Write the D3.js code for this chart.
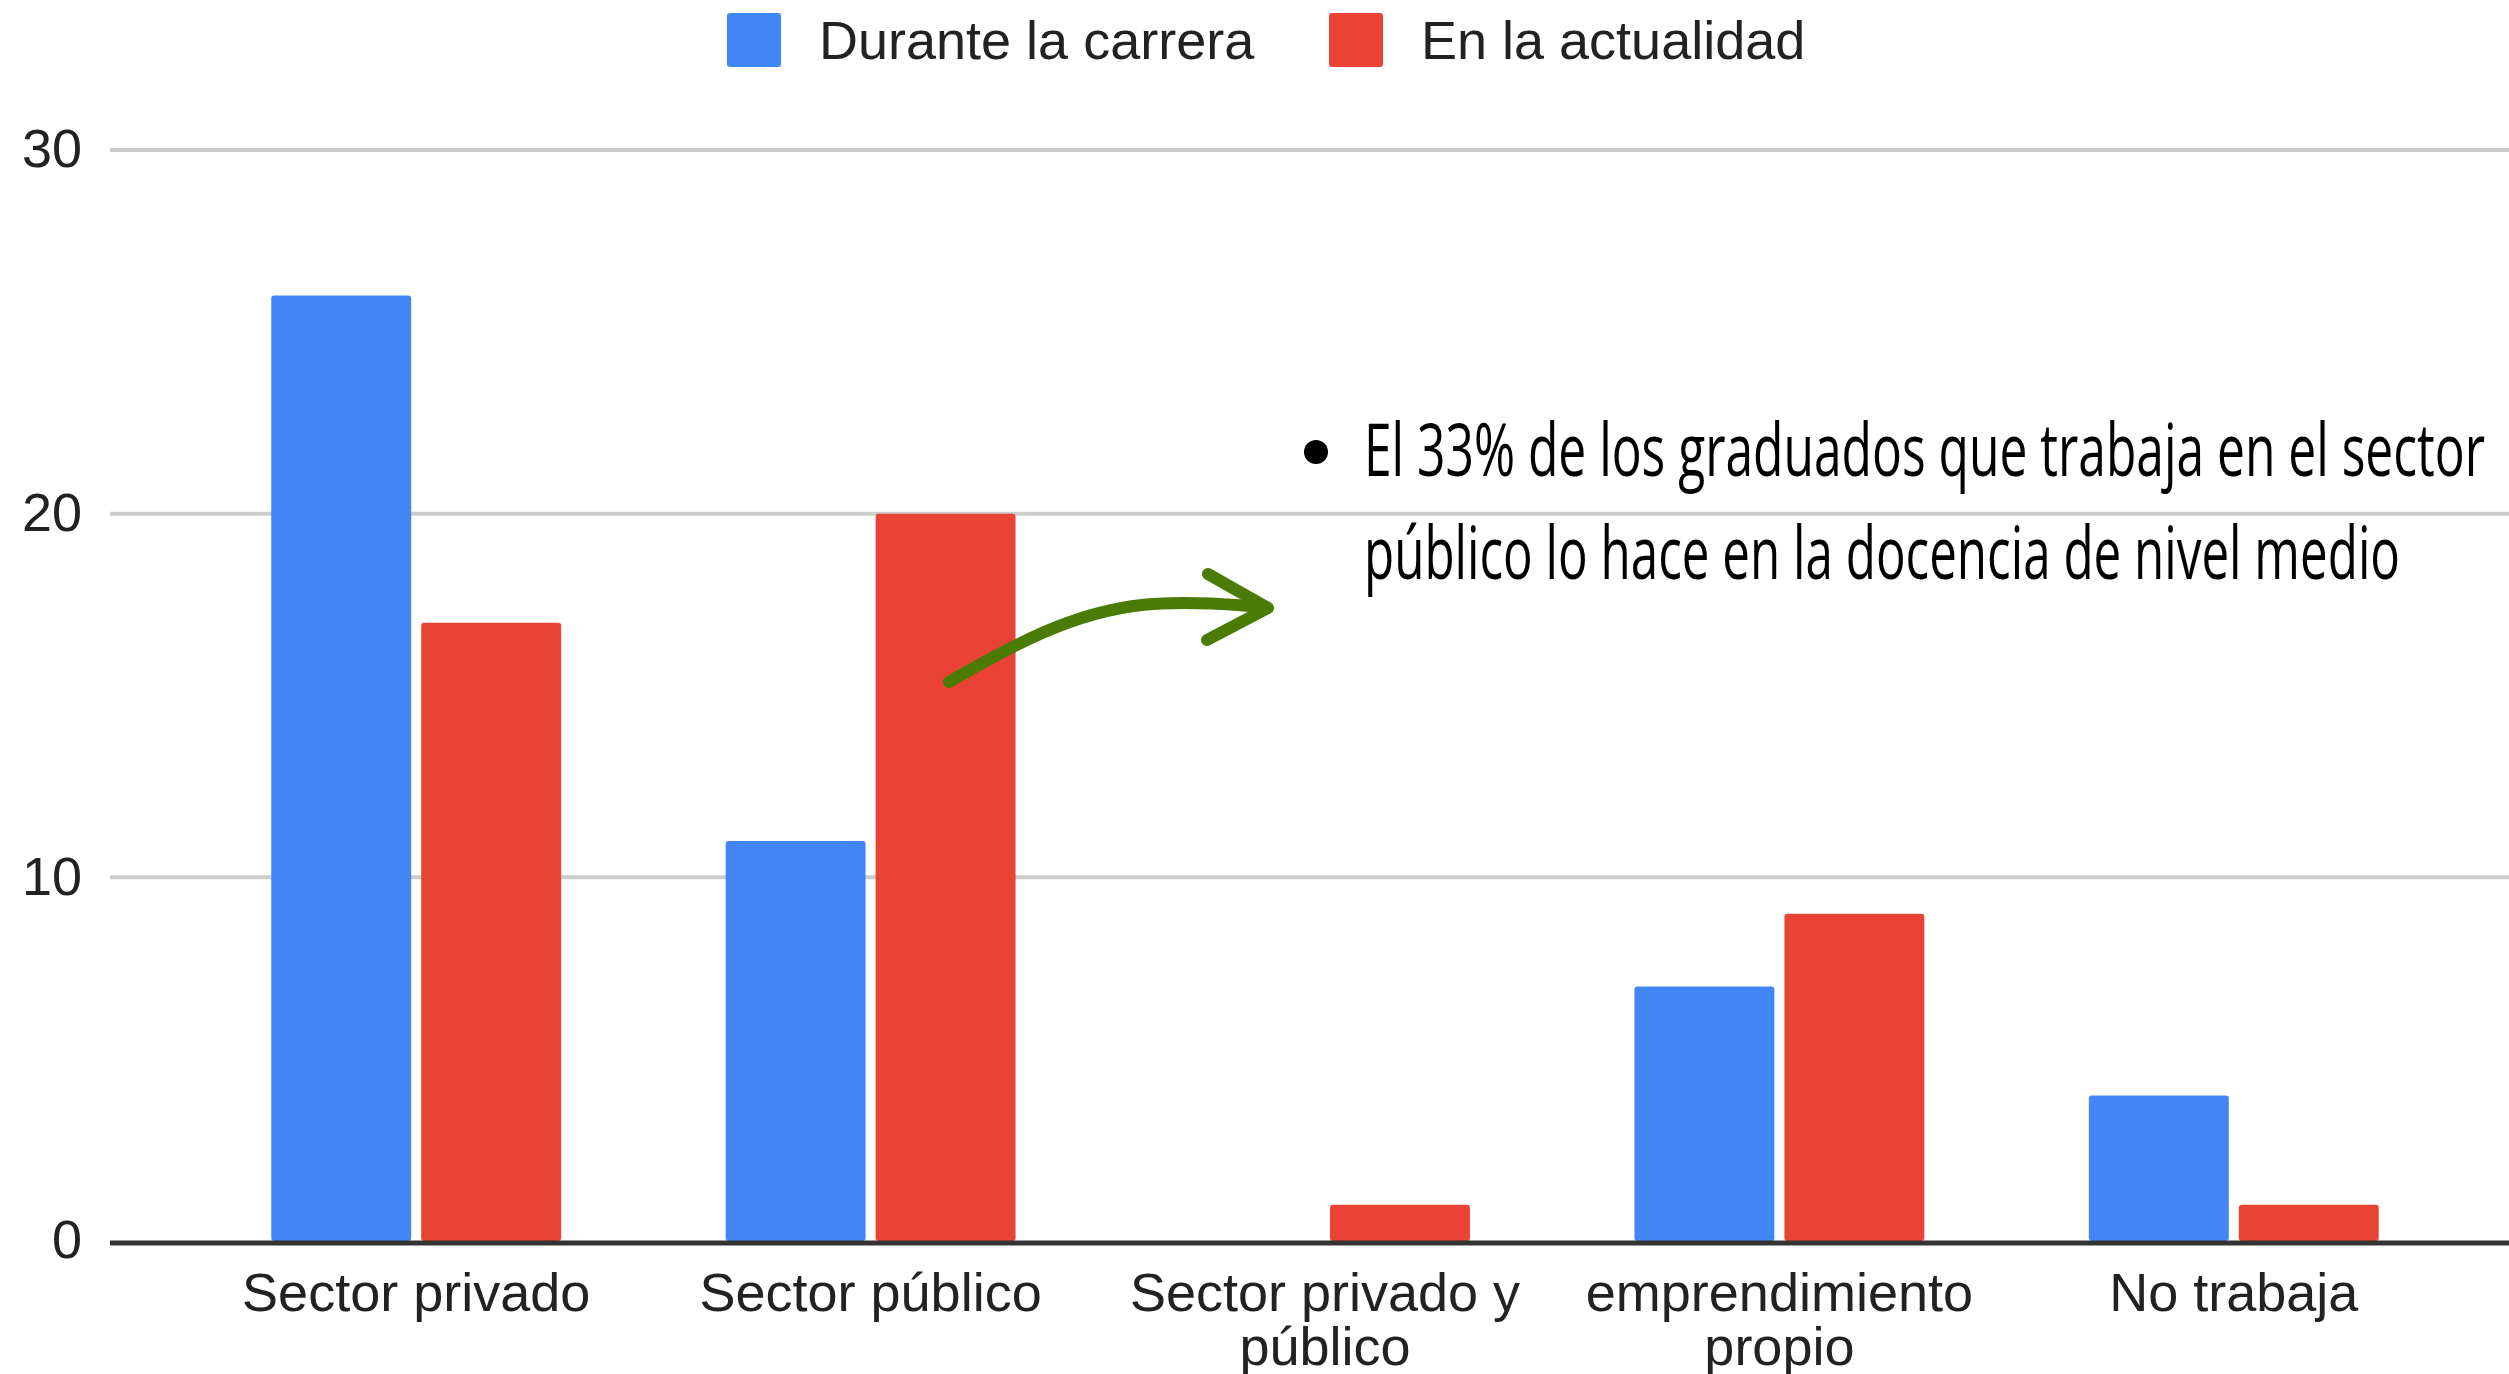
<!DOCTYPE html>
<html>
<head>
<meta charset="utf-8">
<script src="https://cdn.jsdelivr.net/npm/d3@7"></script>
<style>
  body { margin: 0; background: #fff; }
  svg { display: block; }
</style>
</head>
<body>
<div id="chart"></div>
<script>
const width = 2509;
const height = 1374;

// data
const categories = [
  ['Sector privado'],
  ['Sector público'],
  ['Sector privado y', 'público'],
  ['emprendimiento', 'propio'],
  ['No trabaja']
];
const series = ['Durante la carrera', 'En la actualidad'];
const durante = [26, 11, 0, 7, 4];
const actualidad = [17, 20, 1, 9, 1];
const yTicks = [0, 10, 20, 30];
const colors = ['#4285f4', '#ea4335'];
const note = [
  'El 33% de los graduados que trabaja en el sector',
  'público lo hace en la docencia de nivel medio'
];

const values = [durante, actualidad];
const keys = categories.map(d => d.join(' '));

const svg = d3.select('#chart')
  .append('svg')
  .attr('width', width)
  .attr('height', height);

// scales
const x = d3.scaleBand()
  .domain(keys)
  .range([189, 2461])
  .paddingInner(0.362)
  .paddingOuter(0.181);

const xSub = d3.scaleBand()
  .domain(series)
  .range([0, x.bandwidth()])
  .paddingInner(0.067);

const y = d3.scaleLinear()
  .domain([0, 30])
  .range([1241, 150]);

const font = '"Liberation Sans", Arial, sans-serif';

// gridlines
svg.append('g')
  .selectAll('line')
  .data(yTicks.filter(d => d > 0))
  .join('line')
    .attr('x1', 110)
    .attr('x2', width)
    .attr('y1', d => y(d))
    .attr('y2', d => y(d))
    .attr('stroke', '#cccccc')
    .attr('stroke-width', 4);

// y tick labels
svg.append('g')
  .selectAll('text')
  .data(yTicks)
  .join('text')
    .attr('x', 82)
    .attr('y', d => y(d))
    .attr('dy', '0.32em')
    .attr('text-anchor', 'end')
    .attr('font-family', font)
    .attr('font-size', 54)
    .attr('fill', '#222')
    .text(d => d);

// bars
const groups = svg.append('g')
  .selectAll('g')
  .data(keys)
  .join('g')
    .attr('transform', d => `translate(${x(d)},0)`);

groups.selectAll('rect')
  .data((d, i) => series.map((s, j) => ({s, j, v: values[j][i]})).filter(e => e.v > 0))
  .join('rect')
    .attr('x', d => xSub(d.s))
    .attr('width', xSub.bandwidth())
    .attr('y', d => y(d.v))
    .attr('height', d => y(0) - y(d.v))
    .attr('rx', 3)
    .attr('fill', d => colors[d.j]);

// baseline
svg.append('line')
  .attr('x1', 110)
  .attr('x2', width)
  .attr('y1', y(0) + 2)
  .attr('y2', y(0) + 2)
  .attr('stroke', '#333')
  .attr('stroke-width', 5);

// x labels
svg.append('g')
  .selectAll('text')
  .data(categories)
  .join('text')
    .attr('x', (d, i) => x(keys[i]) + x.bandwidth() / 2)
    .attr('y', 1311)
    .attr('text-anchor', 'middle')
    .attr('font-family', font)
    .attr('font-size', 54)
    .attr('fill', '#222')
    .selectAll('tspan')
    .data(d => d)
    .join('tspan')
      .attr('x', function() { return this.parentNode.getAttribute('x'); })
      .attr('dy', (d, i) => i === 0 ? 0 : 54)
      .text(d => d);

// legend
const legendX = [727, 1329];
const legend = svg.append('g')
  .selectAll('g')
  .data(series)
  .join('g')
    .attr('transform', (d, i) => `translate(${legendX[i]},13)`);

legend.append('rect')
  .attr('width', 54)
  .attr('height', 54)
  .attr('rx', 3)
  .attr('fill', (d, i) => colors[i]);

legend.append('text')
  .attr('x', 92)
  .attr('y', 46)
  .attr('font-family', font)
  .attr('font-size', 54)
  .attr('fill', '#222')
  .text(d => d);

// annotation
svg.append('circle')
  .attr('cx', 1316)
  .attr('cy', 452)
  .attr('r', 12)
  .attr('fill', '#000');

const noteLen = [1121, 1036];
svg.append('g')
  .selectAll('text')
  .data(note)
  .join('text')
    .attr('x', 1364)
    .attr('y', (d, i) => 476 + i * 103)
    .attr('font-family', '"Open Sans", sans-serif')
    .attr('font-size', 74)
    .attr('textLength', (d, i) => noteLen[i])
    .attr('lengthAdjust', 'spacingAndGlyphs')
    .attr('fill', '#000')
    .text(d => d);

// arrow
const arrow = svg.append('g')
  .attr('fill', 'none')
  .attr('stroke', '#4a7b05')
  .attr('stroke-width', 12)
  .attr('stroke-linecap', 'round')
  .attr('stroke-linejoin', 'round');

arrow.append('path')
  .attr('d', d3.line().curve(d3.curveBasis)([[949, 682], [1040, 630], [1140, 598], [1264, 607]]));

arrow.append('path')
  .attr('d', d3.line()([[1208, 574], [1268, 608], [1207, 640]]));
</script>
</body>
</html>
